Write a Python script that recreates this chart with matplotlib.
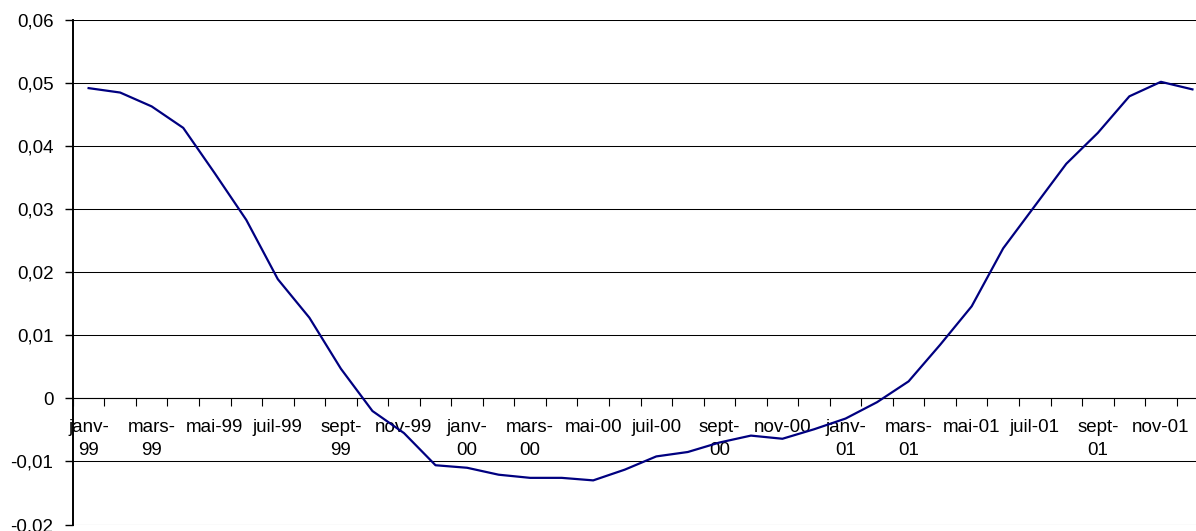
import matplotlib
matplotlib.use("Agg")
import matplotlib.pyplot as plt
from matplotlib.ticker import FuncFormatter

plt.rcParams["font.family"] = ["Liberation Sans", "DejaVu Sans"]

# === Daten: monatliche Werte janv-99 .. déc-01 ===
months = ["janv-99", "févr-99", "mars-99", "avr-99", "mai-99", "juin-99",
          "juil-99", "août-99", "sept-99", "oct-99", "nov-99", "déc-99",
          "janv-00", "févr-00", "mars-00", "avr-00", "mai-00", "juin-00",
          "juil-00", "août-00", "sept-00", "oct-00", "nov-00", "déc-00",
          "janv-01", "févr-01", "mars-01", "avr-01", "mai-01", "juin-01",
          "juil-01", "août-01", "sept-01", "oct-01", "nov-01", "déc-01"]
values = [0.0492, 0.0485, 0.0463, 0.0429, 0.0357, 0.0283,
          0.0189, 0.0128, 0.0047, -0.0020, -0.0055, -0.0106,
          -0.0110, -0.0121, -0.0126, -0.0126, -0.0130, -0.0113,
          -0.0092, -0.0085, -0.0070, -0.0059, -0.0064, -0.0049,
          -0.0032, -0.0006, 0.0027, 0.0085, 0.0146, 0.0238,
          0.0305, 0.0372, 0.0421, 0.0479, 0.0502, 0.0490]
# Excel hat lange Beschriftungen umgebrochen
tick_labels = ["janv-\n99", "mars-\n99", "mai-99", "juil-99", "sept-\n99", "nov-99",
               "janv-\n00", "mars-\n00", "mai-00", "juil-00", "sept-\n00", "nov-00",
               "janv-\n01", "mars-\n01", "mai-01", "juil-01", "sept-\n01", "nov-01"]
y_ticks = [-0.02, -0.01, 0, 0.01, 0.02, 0.03, 0.04, 0.05, 0.06]

x = list(range(len(months)))

fig = plt.figure(figsize=(11.96, 5.31), dpi=100)
# Plotbereich ragt rechts etwas über das Bild hinaus (wie im Original)
ax = fig.add_axes([0.0609, 0.0122, 0.9493, 0.9501])

ax.plot(x, values, color="#000080", linewidth=1.6, zorder=3)

ax.set_xlim(-0.5, len(months) - 0.5)
ax.set_ylim(-0.02, 0.06)

# === Y-Achse ===
ax.set_yticks(y_ticks)
ax.yaxis.set_major_formatter(FuncFormatter(
    lambda v, p: "0" if abs(v) < 1e-9 else f"{v:.2f}".replace(".", ",")))
ax.yaxis.grid(True, color="black", linewidth=0.75)
ax.tick_params(axis="y", direction="out", length=6, width=1.0, pad=8,
               labelsize=13.5, colors="black")

# === X-Achse bei y=0 ===
for s in ["top", "right"]:
    ax.spines[s].set_visible(False)
ax.spines["left"].set_linewidth(1.4)
ax.spines["bottom"].set_position(("data", 0))
ax.spines["bottom"].set_linewidth(0.8)

ax.set_xticks([i - 0.5 for i in range(len(months) + 1)])
ax.set_xticklabels([])
ax.set_xticks(x[::2], tick_labels, minor=True)
ax.tick_params(axis="x", which="major", direction="out", length=6, width=0.8)
ax.tick_params(axis="x", which="minor", length=0, pad=15, labelsize=13.5)
for lbl in ax.get_xticklabels(minor=True):
    lbl.set_linespacing(1.45)
    lbl.set_verticalalignment("top")

ax.set_axisbelow(True)
fig.savefig("out.png", dpi=100)
